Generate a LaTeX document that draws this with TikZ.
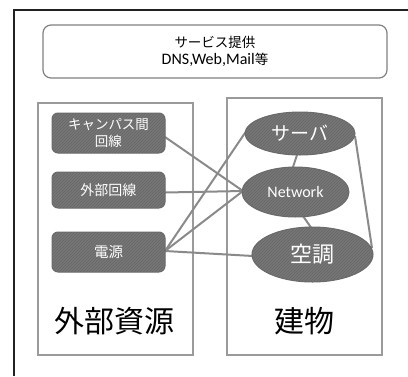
\documentclass[tikz,border=0pt]{standalone}
\usepackage{fontspec}
\setmainfont{Carlito}
\newfontfamily\jp{Noto Sans CJK JP}
\usetikzlibrary{patterns,shapes.geometric}
\definecolor{shapefill}{HTML}{777777}
\definecolor{hatch}{HTML}{666666}
\definecolor{shapeedge}{HTML}{6A6A6A}
\definecolor{linkgray}{HTML}{8A8A8A}
\definecolor{boxgray}{HTML}{9A9A9A}
\definecolor{framedark}{HTML}{222222}
\tikzset{
  darkshape/.style={draw=shapeedge, line width=1pt, preaction={fill=shapefill}, pattern=north east lines, pattern color=hatch, text=white, inner sep=0pt, align=center},
  resbox/.style={darkshape, rounded corners=6pt, minimum width=113pt},
  bldg/.style={darkshape, ellipse},
  group/.style={draw=boxgray, line width=1.2pt},
  link/.style={draw=linkgray, line width=2pt},
  biglabel/.style={font=\jp\fontsize{30}{32}\selectfont, text=black},
}
\begin{document}
\begin{tikzpicture}[x=1pt, y=-1pt]
\useasboundingbox (0,0) rectangle (408,376);
% outer frame (only top and left edges visible)
\draw[framedark, line width=1.8pt] (14,376) coordinate (fbl) -- (14,10) coordinate (ftl) -- (408,10) coordinate (ftr);
% top service box
\node[draw=gray, line width=1.2pt, rounded corners=8pt, minimum width=344pt, minimum height=53pt, align=center, inner sep=0pt, font=\fontsize{16}{18}\selectfont] (svc) at (215,51.5)
  {{\jp\fontsize{13.5}{18}\selectfont サービス提供}\\[-1pt]DNS,Web,Mail{\jp\fontsize{13.5}{18}\selectfont 等}};
% group boxes
\draw[group] (38,103) rectangle (193,355);
\draw[group] (227,98) rectangle (382,355);
\node[biglabel] (lres) at (115,321) {外部資源};
\node[biglabel] (lbld) at (304,321) {建物};
% connectors (drawn before nodes so they end at the borders)
\coordinate (kcE) at (165,137);
\coordinate (gkE) at (165,192.5);
\coordinate (denE) at (165,251);
\coordinate (netW) at (243,191);
\coordinate (svW) at (247,130);
\coordinate (acW) at (253,256);
\coordinate (svS) at (297,155);
\coordinate (netN) at (293,167);
\coordinate (netS) at (303,216);
\coordinate (acN) at (311,227.5);
\coordinate (svE) at (355,136);
\coordinate (acE) at (372,248);
\draw[link] (kcE) -- (netW);
\draw[link] (gkE) -- (netW);
\draw[link] (denE) -- (netW);
\draw[link] (denE) -- (svW);
\draw[link] (denE) -- (acW);
\draw[link] (svS) -- (netN);
\draw[link] (netS) -- (acN);
\draw[link] (svE) -- (acE);
% resource nodes
\node[resbox, minimum height=40pt, font=\jp\fontsize{13.5}{17}\selectfont] (kc) at (108.5,133) {キャンパス間\\回線};
\node[resbox, minimum height=36pt, font=\jp\fontsize{14}{17}\selectfont] (gk) at (108.5,190) {外部回線};
\node[resbox, minimum height=40pt, font=\jp\fontsize{14.5}{17}\selectfont] (den) at (108.5,252) {電源};
% building nodes
\node[bldg, minimum width=110pt, minimum height=43pt, font=\jp\fontsize{19}{20}\selectfont] (sv) at (300,133.5) {サーバ};
\node[bldg, minimum width=107pt, minimum height=50pt, font=\fontsize{16}{18}\selectfont] (net) at (295.5,192) {Network};
\node[bldg, minimum width=121pt, minimum height=55pt, font=\jp\fontsize{22}{24}\selectfont] (ac) at (312.5,254.5) {空調};
\end{tikzpicture}
\end{document}
